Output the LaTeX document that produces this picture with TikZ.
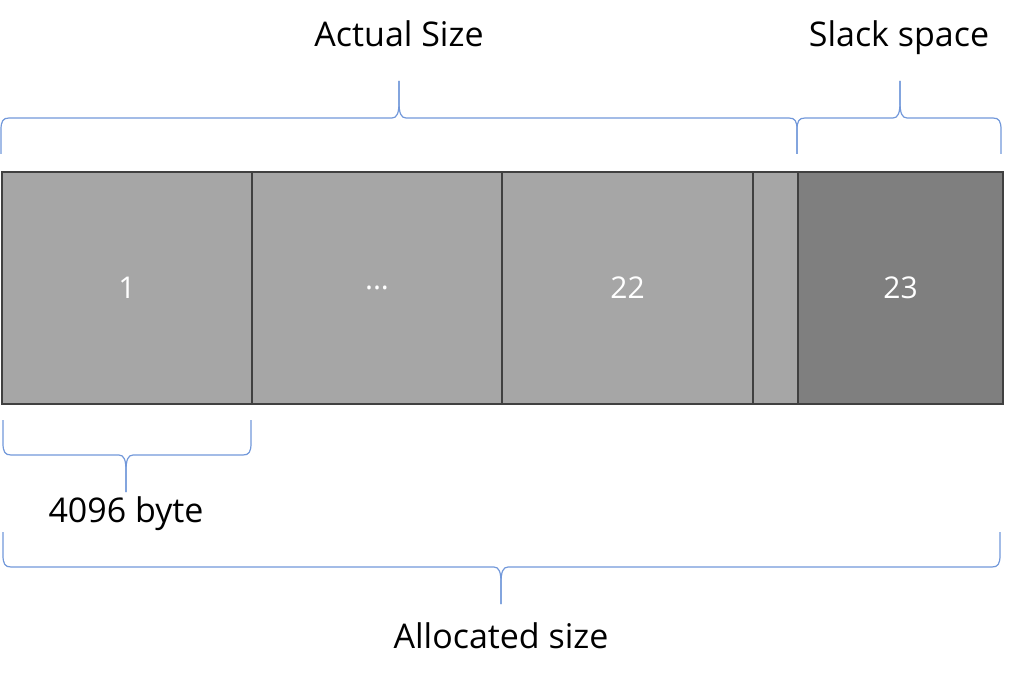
\documentclass[tikz,border=0pt]{standalone}
\usepackage{fontspec}
\setmainfont{Open Sans}
\definecolor{cellgray}{HTML}{A6A6A6}
\definecolor{slackgray}{HTML}{7F7F7F}
\definecolor{edgegray}{HTML}{404040}
\definecolor{bracecol}{HTML}{7298DA}
\tikzset{
  cell/.style={draw=edgegray, line width=2pt, fill=cellgray, anchor=north west,
    minimum height=232pt, inner sep=0pt, text=white, font=\fontsize{30}{36}\selectfont},
  label/.style={anchor=base, font=\fontsize{34}{40}\selectfont},
  brc/.style={draw=bracecol, line width=1.2pt, line join=round}
}
% #1 left x, #2 right x, #3 tip x, #4 end y, #5 middle y, #6 tip y
\newcommand{\sizebrace}[6]{%
  \pgfmathsetmacro\brsgn{sign(#4-#5)}
  \draw[brc] (#1,#4) -- (#1,#5+12*\brsgn) .. controls (#1,#5+3*\brsgn) and (#1+2,#5) .. (#1+8,#5)
    -- (#3-7,#5) .. controls (#3-2,#5) and (#3,#5-5*\brsgn) .. (#3,#5-16*\brsgn) -- (#3,#6);
  \draw[brc] (#2,#4) -- (#2,#5+12*\brsgn) .. controls (#2,#5+3*\brsgn) and (#2-2,#5) .. (#2-8,#5)
    -- (#3+7,#5) .. controls (#3+2,#5) and (#3,#5-5*\brsgn) .. (#3,#5-16*\brsgn) -- (#3,#6);
}
\begin{document}
\begin{tikzpicture}
[x=1pt, y=-1pt]
\useasboundingbox (0,0) rectangle (1024,679);
% the clusters
\node [cell, minimum width=250pt] (c1) at (1,171) {1};
\node [cell, minimum width=250pt] (c2) at (251,171) {...};
\node [cell, minimum width=251pt] (c22) at (501,171) {22};
\node [cell, minimum width=45pt] (c22b) at (752,171) {};
\node [cell, minimum width=205pt, fill=slackgray] (c23) at (797,171) {23};
% braces
\sizebrace{1}{797}{399}{154}{118}{81}
\sizebrace{797}{1001}{900}{154}{118}{81}
\sizebrace{3}{251}{126}{420}{455}{492}
\sizebrace{3}{1000}{501}{532}{567}{604}
% labels
\node [label] (actual) at (399,47) {Actual Size};
\node [label] (slack) at (899,47) {Slack space};
\node [label] (block) at (126,522) {4096 byte};
\node [label] (alloc) at (501,648) {Allocated size};
\end{tikzpicture}
\end{document}
